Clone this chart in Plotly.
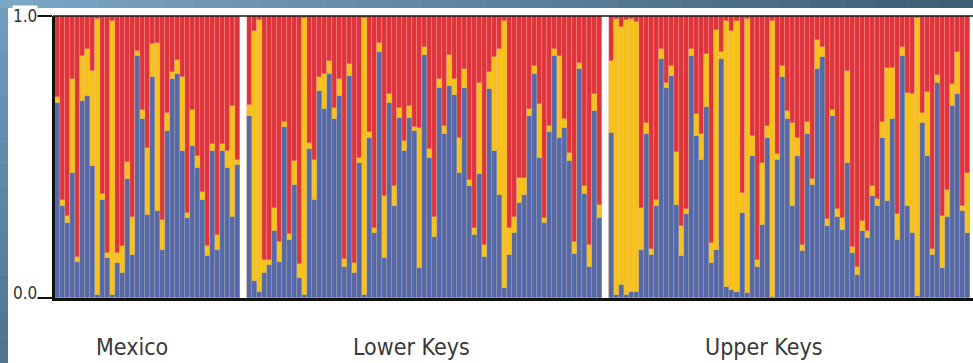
import plotly.graph_objects as go

# ---- data ----
groups = ["Mexico", "Lower Keys", "Upper Keys"]

# blue cluster proportion (bottom segment) per individual
mexico_blue = [0.69, 0.325, 0.266, 0.444, 0.127, 0.70, 0.715, 0.467, 0.01, 0.349,
               0.142, 0.01, 0.124, 0.089, 0.423, 0.153, 0.859, 0.633, 0.295, 0.782,
               0.307, 0.17, 0.592, 0.776, 0.794, 0.52, 0.284, 0.539, 0.461, 0.349,
               0.15, 0.521, 0.171, 0.521, 0.461, 0.287, 0.47]
# top of the yellow segment (blue + yellow) per individual
mexico_top = [0.714, 0.349, 0.29, 0.776, 0.145, 0.859, 0.883, 0.805, 0.99, 0.37,
              0.158, 0.983, 0.16, 0.185, 0.482, 0.288, 0.877, 0.667, 0.533, 0.90,
              0.906, 0.275, 0.655, 0.802, 0.845, 0.782, 0.30, 0.667, 0.503, 0.375,
              0.185, 0.545, 0.224, 0.547, 0.521, 0.68, 0.49]

lower_blue = [0.645, 0.06, 0.02, 0.09, 0.117, 0.236, 0.129, 0.607, 0.206, 0.402,
              0.07, 0.01, 0.529, 0.349, 0.734, 0.669, 0.794, 0.636, 0.716, 0.111,
              0.788, 0.09, 0.479, 0.01, 0.568, 0.23, 0.871, 0.141, 0.693, 0.325,
              0.64, 0.521, 0.64, 0.592, 0.106, 0.861, 0.497, 0.218, 0.746, 0.58,
              0.752, 0.719, 0.444, 0.746, 0.396, 0.224, 0.438, 0.147, 0.74, 0.521,
              0.367, 0.034, 0.153, 0.23, 0.337, 0.367, 0.645, 0.794, 0.497, 0.266,
              0.588, 0.859, 0.568, 0.604, 0.485, 0.157, 0.811, 0.37, 0.111, 0.663,
              0.284]
lower_top = [0.683, 0.948, 0.985, 0.135, 0.135, 0.319, 0.20, 0.625, 0.227, 0.486,
             0.121, 0.992, 0.55, 0.491, 0.782, 0.794, 0.841, 0.675, 0.776, 0.138,
             0.829, 0.123, 0.497, 0.992, 0.588, 0.248, 0.906, 0.36, 0.722, 0.396,
             0.675, 0.556, 0.68, 0.607, 0.604, 0.889, 0.527, 0.289, 0.776, 0.61,
             0.861, 0.776, 0.568, 0.811, 0.42, 0.248, 0.764, 0.189, 0.802, 0.853,
             0.883, 0.983, 0.248, 0.289, 0.426, 0.426, 0.669, 0.821, 0.687, 0.284,
             0.61, 0.883, 0.859, 0.633, 0.515, 0.197, 0.833, 0.396, 0.189, 0.722,
             0.331]

upper_blue = [0.586, 0.01, 0.046, 0.01, 0.02, 0.02, 0.171, 0.58, 0.153, 0.325,
              0.847, 0.743, 0.788, 0.331, 0.149, 0.299, 0.857, 0.574, 0.491, 0.679,
              0.123, 0.171, 0.847, 0.04, 0.03, 0.02, 0.301, 0.017, 0.505, 0.111,
              0.26, 0.568, 0.005, 0.491, 0.782, 0.633, 0.325, 0.503, 0.168, 0.58,
              0.402, 0.811, 0.853, 0.256, 0.645, 0.289, 0.24, 0.479, 0.161, 0.082,
              0.236, 0.212, 0.36, 0.325, 0.568, 0.343, 0.633, 0.206, 0.859, 0.325,
              0.232, 0.007, 0.622, 0.503, 0.153, 0.762, 0.106, 0.289, 0.681, 0.722,
              0.307, 0.23]
upper_top = [0.841, 0.989, 0.96, 0.985, 0.99, 0.98, 0.319, 0.619, 0.173, 0.349,
             0.883, 0.762, 0.821, 0.517, 0.256, 0.317, 0.883, 0.651, 0.58, 0.865,
             0.195, 0.951, 0.871, 0.983, 0.948, 0.983, 0.373, 0.99, 0.574, 0.133,
             0.479, 0.61, 0.983, 0.512, 0.821, 0.663, 0.619, 0.568, 0.189, 0.624,
             0.422, 0.916, 0.889, 0.28, 0.667, 0.316, 0.284, 0.805, 0.18, 0.111,
             0.272, 0.236, 0.396, 0.351, 0.624, 0.814, 0.817, 0.299, 0.889, 0.728,
             0.722, 0.992, 0.655, 0.731, 0.173, 0.79, 0.292, 0.384, 0.758, 0.871,
             0.325, 0.444]

tick_vals = [0, 1]
tick_text = ["0.0", "1.0"]

# ---- layout helpers ----
RED = "#E1333A"
YELLOW = "#F6C217"
BLUE = "#5568A8"
W, H = 973, 363
ML, MR, MT, MB = 55, 0, 16, 65
PW, PH = W - ML - MR, H - MT - MB
GAP1, GAP2 = 1.25, 1.35
UNIT_PX = 5.011
FONT = "Liberation Sans Narrow, DejaVu Sans Condensed, Lato, sans-serif"


def px2paper_x(px):
    return (px - ML) / PW


def px2paper_y(py):
    return (H - MB - py) / PH


start_lower = len(mexico_blue) + GAP1
start_upper = start_lower + len(lower_blue) + GAP2
x_pos = ([i for i in range(len(mexico_blue))]
         + [start_lower + j for j in range(len(lower_blue))]
         + [start_upper + k for k in range(len(upper_blue))])
blue_all = mexico_blue + lower_blue + upper_blue
top_all = mexico_top + lower_top + upper_top
full_all = [1.0 for _ in x_pos]

sep = dict(width=0.5, color="rgba(255,255,255,0.28)")
fig = go.Figure()
fig.add_bar(x=x_pos, y=full_all, marker=dict(color=RED, line=sep), width=1.0,
            opacity=1, hoverinfo="skip")
fig.add_bar(x=x_pos, y=top_all, marker=dict(color=YELLOW, line=sep), width=1.0,
            opacity=1, hoverinfo="skip")
fig.add_bar(x=x_pos, y=blue_all, marker=dict(color=BLUE, line=sep), width=1.0,
            opacity=1, hoverinfo="skip")

x_max = -0.5 + PW / UNIT_PX

shapes = []
# blue gradient frame (top strip and left strip)
top_cols_start = (124, 166, 198)
top_cols_end = (62, 94, 118)
nseg = 30
for s in range(nseg):
    t = s / (nseg - 1)
    c = tuple(int(a + (b - a) * t) for a, b in zip(top_cols_start, top_cols_end))
    x0 = s * W / nseg
    x1 = (s + 1) * W / nseg + 0.5
    shapes.append(dict(type="rect", xref="paper", yref="paper",
                       x0=px2paper_x(x0), x1=px2paper_x(x1),
                       y0=px2paper_y(8), y1=px2paper_y(0),
                       fillcolor="rgb(%d,%d,%d)" % c, line=dict(width=0), layer="above"))
left_start = (112, 156, 190)
left_end = (78, 116, 146)
nseg2 = 16
for s in range(nseg2):
    t = s / (nseg2 - 1)
    c = tuple(int(a + (b - a) * t) for a, b in zip(left_start, left_end))
    y0 = 8 + s * (H - 8) / nseg2
    y1 = 8 + (s + 1) * (H - 8) / nseg2 + 0.5
    shapes.append(dict(type="rect", xref="paper", yref="paper",
                       x0=px2paper_x(0), x1=px2paper_x(8),
                       y0=px2paper_y(y1), y1=px2paper_y(y0),
                       fillcolor="rgb(%d,%d,%d)" % c, line=dict(width=0), layer="above"))
# thin top border of the plot
shapes.append(dict(type="line", xref="paper", yref="paper", x0=px2paper_x(53), x1=1,
                   y0=1, y1=1, line=dict(color="#1a1a1a", width=1.5), layer="above"))

annotations = []
for v, t in zip(tick_vals, tick_text):
    annotations.append(dict(x=0, xref="paper", y=v, yref="y", text=t, showarrow=False,
                            xanchor="right", yanchor="middle", xshift=-17,
                            yshift=(5 if v == 0 else 0),
                            font=dict(family=FONT, size=17, color="#333333"),
                            bgcolor="white", borderpad=0))

label_x = [14.9, 70.7, 140.8]
for lx, g in zip(label_x, groups):
    annotations.append(dict(x=lx, xref="x", y=px2paper_y(347), yref="paper", text=g,
                            showarrow=False, xanchor="center", yanchor="middle",
                            font=dict(family=FONT, size=23, color="#383838")))

fig.update_layout(
    width=W, height=H,
    margin=dict(l=ML, r=MR, t=MT, b=MB, pad=0),
    paper_bgcolor="white", plot_bgcolor="white",
    barmode="overlay", bargap=0, showlegend=False,
    shapes=shapes, annotations=annotations,
    xaxis=dict(range=[-0.5, x_max], showticklabels=False, showgrid=False,
               zeroline=False, showline=True, linewidth=3, linecolor="#111111",
               ticks="", fixedrange=True),
    yaxis=dict(range=[0, 1], tickvals=tick_vals, ticktext=tick_text,
               showticklabels=False, ticks="outside", ticklen=15, tickwidth=2,
               tickcolor="#111111", showgrid=False, zeroline=False, showline=True,
               linewidth=2.5, linecolor="#111111", fixedrange=True),
)

fig.write_html("out.html")
